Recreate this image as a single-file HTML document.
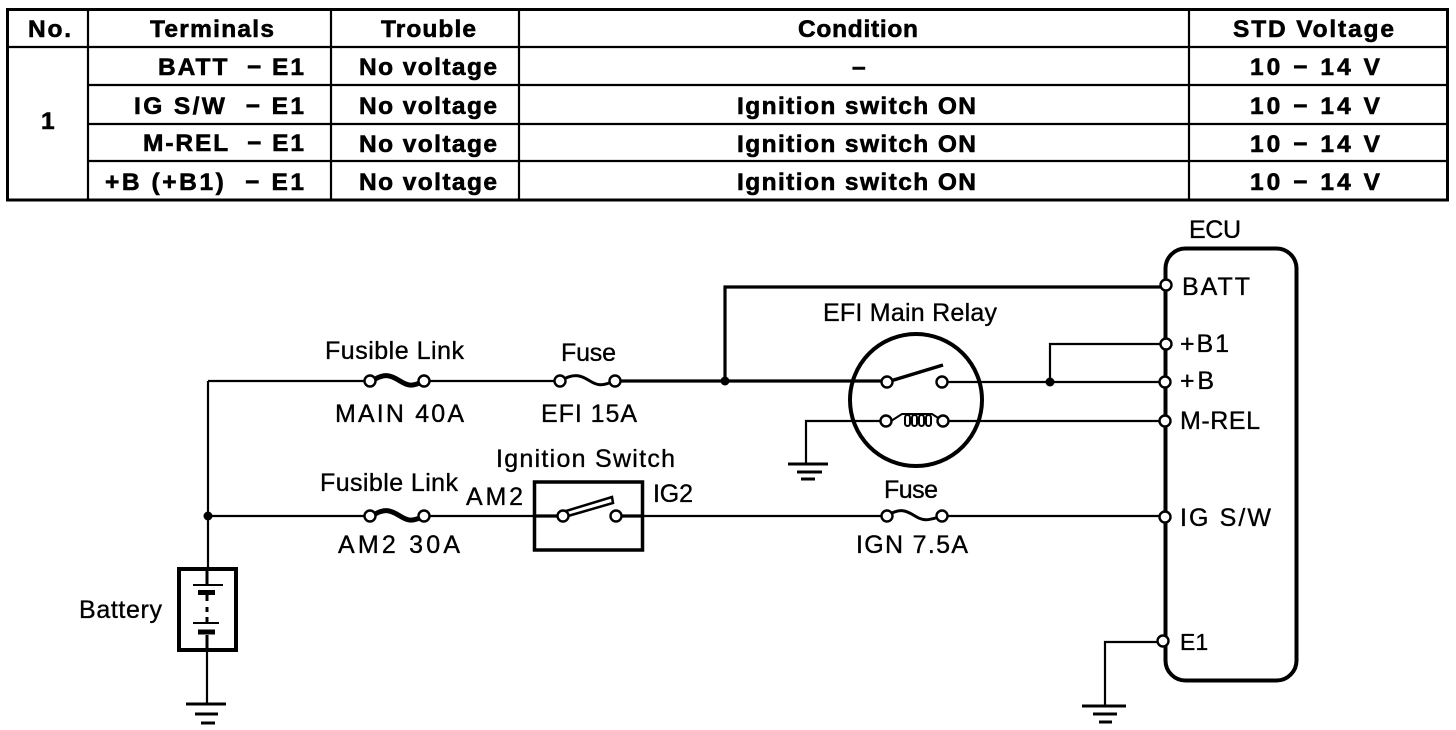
<!DOCTYPE html>
<html><head><meta charset="utf-8"><style>
html,body{margin:0;padding:0;background:#fff;width:1456px;height:730px;overflow:hidden}
svg{display:block}
text{font-family:"Liberation Sans",sans-serif;fill:#000}
.h{font-weight:bold;font-size:24.5px;stroke:#000;stroke-width:.6px}
.l{font-size:25px;stroke:#000;stroke-width:.35px}
.w{fill:none;stroke:#000;stroke-width:2.2}
.t{fill:none;stroke:#000;stroke-width:3.2}
.c{fill:#fff;stroke:#000;stroke-width:2.4}
</style></head><body>
<svg width="1456" height="730" viewBox="0 0 1456 730">
<!-- table -->
<rect x="7.500" y="9.500" width="1440" height="190.500" fill="none" stroke="#000" stroke-width="3"/>
<path class="w" d="M7 47H1447M88 85H1447M88 124H1447M88 161H1447M88 9V200M331 9V200M519 9V200M1189 9V200"/>
<g class="h">
<text x="28" y="37" textLength="43">No.</text>
<text x="150" y="37" textLength="124">Terminals</text>
<text x="381" y="37" textLength="95">Trouble</text>
<text x="798" y="37" textLength="120">Condition</text>
<text x="1233" y="37" textLength="161">STD Voltage</text>
<text x="41" y="129" textLength="12">1</text>
<text x="158" y="75" textLength="146" xml:space="preserve">BATT  − E1</text>
<text x="134" y="114" textLength="170" xml:space="preserve">IG S/W  − E1</text>
<text x="143" y="151" textLength="161" xml:space="preserve">M-REL  − E1</text>
<text x="105" y="190" textLength="199" xml:space="preserve">+B (+B1)  − E1</text>
<text x="359" y="75" textLength="138">No voltage</text>
<text x="359" y="114" textLength="138">No voltage</text>
<text x="359" y="152" textLength="138">No voltage</text>
<text x="359" y="190" textLength="138">No voltage</text>
<text x="852" y="75" textLength="14">–</text>
<text x="737" y="114" textLength="239">Ignition switch ON</text>
<text x="737" y="152" textLength="239">Ignition switch ON</text>
<text x="737" y="190" textLength="239">Ignition switch ON</text>
<text x="1250" y="75" textLength="130" xml:space="preserve">10 − 14 V</text>
<text x="1250" y="114" textLength="130" xml:space="preserve">10 − 14 V</text>
<text x="1250" y="152" textLength="130" xml:space="preserve">10 − 14 V</text>
<text x="1250" y="190" textLength="130" xml:space="preserve">10 − 14 V</text>
</g>
<!-- ECU -->
<rect x="1165.500" y="248.500" width="131" height="432" rx="20" fill="none" stroke="#000" stroke-width="4"/>
<!-- wires -->
<path class="w" d="M208 381V570M208 381H372M424 381H560M208 516H372M424 516H534M643 516H887M942 516H1165M942 382H1165M1050 382V344H1165M806 463V421H886M943 421H1165M207 650V703M1105 706V642H1165"/>
<path class="t" d="M615 381H887M725 381V287H1165M534 516H562M616 516H643"/>
<circle cx="208" cy="516" r="4.500"/><circle cx="725" cy="381" r="4.500"/><circle cx="1050" cy="382" r="4.500"/>
<!-- relay -->
<circle cx="916" cy="400" r="66" fill="none" stroke="#000" stroke-width="4"/>
<path d="M887 382L943 365" fill="none" stroke="#000" stroke-width="3.500"/>
<path d="M891 421L902 414H932L943 421" fill="none" stroke="#000" stroke-width="2"/>
<g fill="none" stroke="#000" stroke-width="2">
<rect x="905" y="415" width="5" height="11" rx="2.500"/><rect x="912" y="415" width="5" height="11" rx="2.500"/><rect x="919" y="415" width="5" height="11" rx="2.500"/><rect x="926" y="415" width="5" height="11" rx="2.500"/>
</g>
<!-- fusible links -->
<path d="M372 381C385 372 392 376 400 381S412 387 424 381" fill="none" stroke="#000" stroke-width="5"/>
<path d="M372 516C385 507 392 511 400 516S412 522 424 516" fill="none" stroke="#000" stroke-width="5"/>
<path d="M560 381C575 372 582 376 590 381S602 386 615 381" fill="none" stroke="#000" stroke-width="3"/>
<path d="M887 516C900 507 907 511 915 516S927 521 942 516" fill="none" stroke="#000" stroke-width="3"/>
<g class="c">
<circle cx="887" cy="382" r="5.500"/><circle cx="942" cy="382" r="5.500"/>
<circle cx="886" cy="421" r="5.500"/><circle cx="943" cy="421" r="5.500"/>
<circle cx="370" cy="381" r="5.500"/><circle cx="424" cy="381" r="5.500"/>
<circle cx="560" cy="381" r="5.500"/><circle cx="615" cy="381" r="5.500"/>
<circle cx="370" cy="516" r="5.500"/><circle cx="424" cy="516" r="5.500"/>
<circle cx="887" cy="516" r="5.500"/><circle cx="942" cy="516" r="5.500"/>
</g>
<!-- ignition switch -->
<rect x="534.500" y="482" width="108" height="68" fill="none" stroke="#000" stroke-width="3.500"/>
<path d="M566 511L612 497L613 503L568 516" fill="none" stroke="#000" stroke-width="2.500"/>
<circle class="c" cx="563" cy="516" r="5.500"/><circle class="c" cx="616" cy="516" r="5.500"/>
<!-- pins -->
<g class="c">
<circle cx="1166" cy="285" r="5.500"/><circle cx="1166" cy="344" r="5.500"/><circle cx="1165" cy="382" r="5.500"/>
<circle cx="1165" cy="421" r="5.500"/><circle cx="1165" cy="517" r="5.500"/><circle cx="1163" cy="641" r="5.500"/>
</g>
<!-- battery -->
<rect x="179" y="569" width="57" height="81" fill="none" stroke="#000" stroke-width="4"/>
<path d="M193 585H223M193 623H219" fill="none" stroke="#000" stroke-width="2"/>
<path d="M198 592.500H215M198 632H215" fill="none" stroke="#000" stroke-width="5"/>
<path d="M207 570V584M207 595V601M207 607V612M207 617V622M207 635V648" fill="none" stroke="#000" stroke-width="3"/>
<!-- grounds -->
<path fill="none" stroke="#000" stroke-width="3" d="M186 704H226M195 714H218M201 723H215M788 464H828M797 472H822M801 479H815M1082 706H1126M1093 714H1117M1099 722H1112"/>
<!-- labels -->
<g class="l">
<text x="1189" y="238" textLength="52">ECU</text>
<text x="1182" y="295" textLength="68">BATT</text>
<text x="1180" y="352" textLength="49">+B1</text>
<text x="1180" y="389" textLength="34">+B</text>
<text x="1180" y="429" textLength="80">M-REL</text>
<text x="1180" y="526" textLength="91">IG S/W</text>
<text x="1180" y="650" style="font-size:23px">E1</text>
<text x="823" y="321" textLength="174">EFI Main Relay</text>
<text x="325" y="359" textLength="139">Fusible Link</text>
<text x="561" y="361" textLength="55">Fuse</text>
<text x="335" y="422" textLength="129">MAIN 40A</text>
<text x="541" y="422" textLength="96">EFI 15A</text>
<text x="496" y="467" textLength="179">Ignition Switch</text>
<text x="320" y="491" textLength="138">Fusible Link</text>
<text x="466" y="505" textLength="57">AM2</text>
<text x="653" y="502" textLength="40">IG2</text>
<text x="338" y="553" textLength="122">AM2 30A</text>
<text x="884" y="498" textLength="54">Fuse</text>
<text x="856" y="553" textLength="112">IGN 7.5A</text>
<text x="79" y="618" textLength="83">Battery</text>
</g>
</svg>
</body></html>
